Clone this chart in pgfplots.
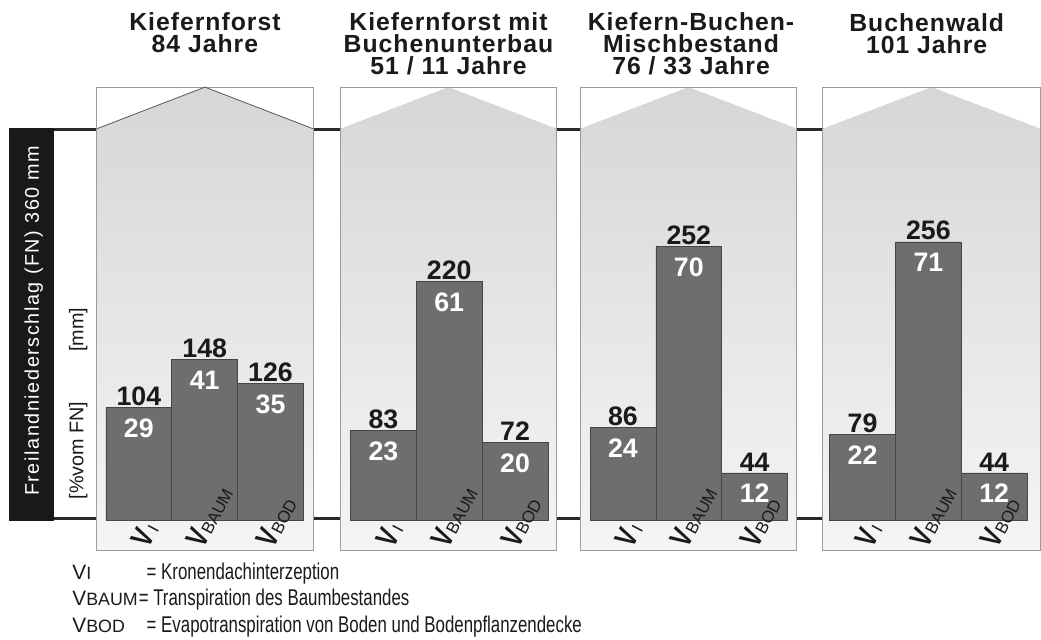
\documentclass[border=0pt]{standalone}
\usepackage{pgfplots}
\pgfplotsset{compat=1.18}
\usepackage{pgfplotstable}
\usepackage{fontspec}
\setmainfont{Liberation Sans}
\newfontfamily\titlefont[LetterSpace=4]{Liberation Sans}
\newfontfamily\spacedfont[LetterSpace=8]{Liberation Sans}
\newfontfamily\narrowfont[FakeStretch=0.74]{Liberation Sans}
\newfontfamily\vfont[FakeStretch=0.75]{Liberation Sans}
\definecolor{barc}{HTML}{6E6E6E}
\definecolor{baredge}{HTML}{454545}
\definecolor{boxc}{HTML}{9C9C9C}
\definecolor{gtop}{HTML}{D6D6D6}
\definecolor{gbot}{HTML}{F5F5F5}
\definecolor{linec}{HTML}{2A2A2A}
\definecolor{txt}{HTML}{1A1A1A}

% bar centre (pixel x), value in mm, share in % of FN
\pgfplotstableread{
x v p
140.25 104 29
206.75 148 41
273.25 126 35
387.25 83 23
453.75 220 61
520.25 72 20
629.25 86 24
695.75 252 70
762.25 44 12
871.25 79 22
937.75 256 71
1004.25 44 12
}\data

\newcommand{\panel}[3]{% left, right, centre
  \shade[top color=gtop, bottom color=gbot] (#1,556) -- (#1,130) -- (#3,88) -- (#2,130) -- (#2,556) -- cycle;
  \draw[boxc, line width=1pt] (#1,88) rectangle (#2,556);
}
\newcommand{\VI}[1]{\node[rotate=62, anchor=base west, inner sep=0pt, text=txt] at (#1+10,555)
  {{\vfont\bfseries\fontsize{31}{31}\selectfont V}{\fontsize{17}{17}\selectfont\,I}};}
\newcommand{\VB}[1]{\node[rotate=62, anchor=base west, inner sep=0pt, text=txt] at (#1-1,555)
  {{\vfont\bfseries\fontsize{31}{31}\selectfont V}{\fontsize{17}{17}\selectfont BAUM}};}
\newcommand{\VO}[1]{\node[rotate=62, anchor=base west, inner sep=0pt, text=txt] at (#1+3,555)
  {{\vfont\bfseries\fontsize{31}{31}\selectfont V}{\fontsize{17}{17}\selectfont BOD}};}

\begin{document}
\begin{tikzpicture}
\begin{scope}[x=1pt, y=-1pt, shift={(0pt,646pt)}]
  \fill[white] (0,0) rectangle (1041,646);
  % horizontal reference lines (FN = 360 mm and 0)
  \draw[linec, line width=3pt] (9,130.5) -- (1041,130.5);
  \draw[linec, line width=3pt] (55,524) -- (1041,524);
  % black side bar
  \fill[black!90] (9,129) rectangle (55,526);
  \node[rotate=90, text=white, inner sep=0pt, font=\spacedfont\fontsize{20}{20}\selectfont] at (34,324) {Freilandniederschlag (FN) 360 mm};
  \node[rotate=90, text=txt, inner sep=0pt, font=\fontsize{20}{20}\selectfont] at (79,455) {[\%vom FN]};
  \node[rotate=90, text=txt, inner sep=0pt, font=\fontsize{20}{20}\selectfont] at (79,333) {[mm]};
  % panels
  \panel{97}{317}{207}
  \draw[gray!70!black, line width=0.8pt] (98,130) -- (207,88) -- (316,130);
  \panel{344}{562}{453}
  \panel{586}{805}{695.5}
  \panel{831}{1051}{941}
  % titles
  \begin{scope}[every node/.style={anchor=north, align=center, inner sep=0pt, text=txt,
      font=\titlefont\bfseries\fontsize{25}{22}\selectfont}]
    \node at (207,13) {Kiefernforst\\84 Jahre};
    \node at (453,13) {Kiefernforst mit\\Buchenunterbau\\51 / 11 Jahre};
    \node at (698,13) {Kiefern-Buchen-\\Mischbestand\\76 / 33 Jahre};
    \node at (936,14) {Buchenwald\\101 Jahre};
  \end{scope}
\end{scope}

\begin{axis}[at={(0pt,0pt)}, anchor=south west, scale only axis,
  width=1041pt, height=646pt,
  xmin=0, xmax=1041, ymin=-109.0909, ymax=478.1818,
  axis lines=none, clip=false,
  /pgf/number format/assume math mode=true]
\addplot[ybar, bar width=66.5, fill=barc, draw=baredge, line width=0.6pt,
  nodes near coords, point meta=y,
  nodes near coords style={anchor=south, inner sep=1.5pt, text=txt,
    font=\bfseries\fontsize{27}{27}\selectfont}]
  table[x=x, y=v] {\data};
\addplot[draw=none, mark=none, nodes near coords, point meta=explicit,
  nodes near coords style={anchor=center, yshift=-21pt, inner sep=0pt, text=white,
    font=\bfseries\fontsize{27}{27}\selectfont}]
  table[x=x, y=v, meta=p] {\data};
\end{axis}

\begin{scope}[x=1pt, y=-1pt, shift={(0pt,646pt)}]
  \VI{140.25}\VB{206.75}\VO{273.25}
  \VI{387.25}\VB{453.75}\VO{520.25}
  \VI{629.25}\VB{695.75}\VO{762.25}
  \VI{871.25}\VB{937.75}\VO{1004.25}
  % legend
  \begin{scope}[every node/.style={anchor=base west, inner sep=0pt, text=txt}]
    \node at (73,585) {{\fontsize{21}{21}\selectfont V}{\fontsize{18}{18}\selectfont I}};
    \node at (73,612) {{\fontsize{21}{21}\selectfont V}{\fontsize{18}{18}\selectfont BAUM}};
    \node at (73,639) {{\fontsize{21}{21}\selectfont V}{\fontsize{18}{18}\selectfont BOD}};
    \node[font=\narrowfont\fontsize{23}{23}\selectfont] at (148,585) {= Kronendachinterzeption};
    \node[font=\narrowfont\fontsize{23}{23}\selectfont] at (140,612) {= Transpiration des Baumbestandes};
    \node[font=\narrowfont\fontsize{23}{23}\selectfont] at (148,639) {= Evapotranspiration von Boden und Bodenpflanzendecke};
  \end{scope}
\end{scope}
\end{tikzpicture}
\end{document}
